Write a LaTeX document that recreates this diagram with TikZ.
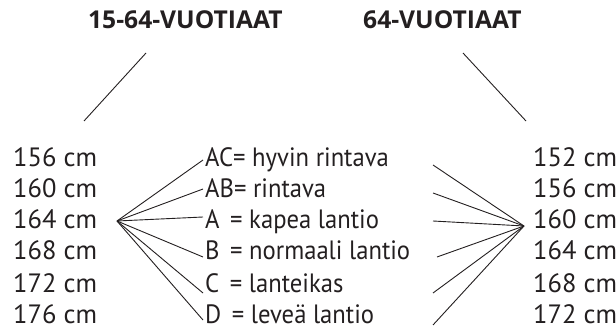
\documentclass[tikz,border=0pt]{standalone}
\usepackage{fontspec}
\setmainfont{PT Sans}
\newfontfamily\midfont[FakeStretch=0.93]{PT Sans}
\newfontfamily\ttlfont{Open Sans}
\definecolor{ink}{HTML}{231F20}
\tikzset{
  lbl/.style={anchor=base west, inner sep=0pt, text=ink, font=\fontsize{26.5}{28}\selectfont},
  mid/.style={anchor=base west, inner sep=0pt, text=ink, font=\midfont\fontsize{26.5}{28}\selectfont},
  ttl/.style={anchor=base west, inner sep=0pt, text=ink, font=\ttlfont\fontsize{24.6}{26}\selectfont\bfseries},
  ln/.style={draw=ink, line width=0.9pt}
}
\begin{document}
\begin{tikzpicture}[x=1pt,y=-1pt]
\useasboundingbox (0,0) rectangle (616,331);
% titles
\node[ttl] (t1) at (88,29) {15-64-VUOTIAAT};
\node[ttl] (t2) at (363,29) {64-VUOTIAAT};
\coordinate (l1a) at (146,53); \coordinate (l1b) at (84,121);
\coordinate (l2a) at (463,53); \coordinate (l2b) at (526,121);
\draw[ln] (l1a) -- (l1b);
\draw[ln] (l2a) -- (l2b);
% left column
\node[lbl] (a1) at (13,167) {156 cm};
\node[lbl] (a2) at (13,198) {160 cm};
\node[lbl] (a3) at (13,229) {164 cm};
\node[lbl] (a4) at (13,260) {168 cm};
\node[lbl] (a5) at (13,292) {172 cm};
\node[lbl] (a6) at (13,323) {176 cm};
% right column
\node[lbl] (b1) at (533,167) {152 cm};
\node[lbl] (b2) at (533,198) {156 cm};
\node[lbl] (b3) at (533,229) {160 cm};
\node[lbl] (b4) at (533,260) {164 cm};
\node[lbl] (b5) at (533,292) {168 cm};
\node[lbl] (b6) at (533,323) {172 cm};
% middle labels
\node[mid] (m1) at (205,167) {AC= hyvin rintava};
\node[mid] (m2) at (205,198) {AB= rintava};
\node[mid] (m3) at (205,229) {A\hspace{0.4em}= kapea lantio};
\node[mid] (m4) at (205,260) {B\hspace{0.4em}= normaali lantio};
\node[mid] (m5) at (205,292) {C\hspace{0.4em}= lanteikas};
\node[mid] (m6) at (205,323) {D\hspace{0.4em}= leveä lantio};
% hubs
\coordinate (hl) at (117,221);
\coordinate (hr) at (524,226);
% left fan ends
\coordinate (e1) at (203,160);
\coordinate (e2) at (203,189);
\coordinate (e3) at (203,217);
\coordinate (e4) at (203,257);
\coordinate (e5) at (203,293);
\coordinate (e6) at (203,320);
% right fan starts
\coordinate (s1) at (433,165);
\coordinate (s2) at (433,193);
\coordinate (s3) at (433,221);
\coordinate (s4) at (437,257);
\coordinate (s5) at (433,293);
\coordinate (s6) at (433,325);
\foreach \i in {1,...,6}{
  \draw[ln] (hl) -- (e\i);
  \draw[ln] (s\i) -- (hr);
}
\end{tikzpicture}
\end{document}
